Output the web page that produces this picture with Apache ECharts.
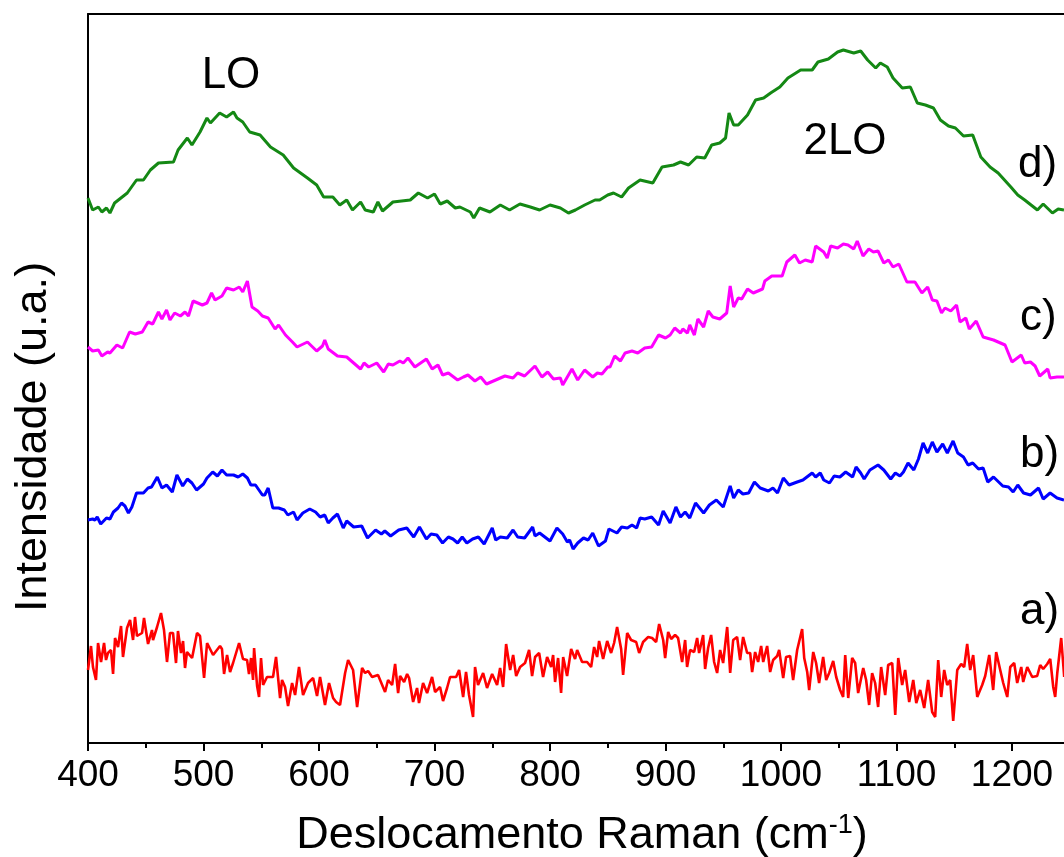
<!DOCTYPE html>
<html>
<head>
<meta charset="utf-8">
<script src="https://cdn.jsdelivr.net/npm/echarts@6/dist/echarts.min.js"></script>
<style>html,body{margin:0;padding:0;background:#fff}#c{width:1064px;height:857px}</style>
</head>
<body>
<div id="c"></div>
<script>
// x tick labels (Raman shift, cm-1)
const xTicks = [400, 500, 600, 700, 800, 900, 1000, 1100, 1200];
const seriesNames = ['a)', 'b)', 'c)', 'd)'];
const peakLabels = ['LO', '2LO'];

// d) green  [wavenumber, intensity (a.u., offset)]
const curveD = [[400,545],[404,533],[409,536],[412,531],[416,535],[419,530],[423,540],[434,550],[442,563],[448,563],[454,573],[461,580],[474,581],[478,593],[486,605],[490,598],[497,611],[503,625],[506,620],[514,630],[520,626],[526,631],[529,625],[534,621],[540,611],[549,608],[558,596],[569,588],[578,575],[590,565],[598,558],[604,546],[612,546],[618,538],[624,543],[629,533],[636,541],[640,533],[647,531],[651,541],[655,532],[664,541],[679,543],[686,550],[694,545],[700,549],[705,539],[711,542],[718,535],[722,536],[731,531],[734,525],[739,535],[748,531],[757,538],[765,533],[774,539],[783,536],[791,533],[800,538],[809,535],[816,530],[822,533],[830,538],[839,543],[843,543],[850,548],[855,550],[862,546],[868,555],[878,563],[889,560],[897,576],[907,578],[913,581],[920,578],[927,586],[934,585],[940,598],[947,600],[952,605],[955,630],[959,618],[963,618],[971,628],[978,643],[985,645],[991,650],[999,656],[1006,665],[1017,673],[1027,673],[1032,681],[1041,684],[1049,691],[1054,693],[1063,690],[1069,692],[1075,683],[1082,675],[1086,680],[1092,676],[1097,665],[1105,655],[1112,656],[1118,640],[1125,638],[1132,635],[1138,623],[1145,617],[1151,615],[1158,607],[1166,608],[1173,586],[1181,576],[1188,570],[1199,556],[1205,548],[1211,543],[1222,533],[1227,539],[1235,530],[1240,534],[1245,533]];

// c) magenta
const curveC = [[400,396],[404,392],[409,393],[412,387],[417,391],[419,390],[425,398],[430,395],[436,411],[441,409],[447,411],[452,421],[456,419],[461,431],[464,424],[468,433],[471,423],[475,430],[480,427],[484,431],[487,427],[491,442],[499,438],[503,440],[507,450],[510,443],[516,447],[520,455],[526,453],[531,456],[534,451],[538,462],[542,436],[547,432],[551,427],[556,425],[562,414],[565,418],[571,408],[577,401],[581,396],[590,401],[598,392],[603,397],[605,403],[608,394],[616,387],[624,386],[630,380],[636,374],[639,380],[643,376],[650,380],[656,371],[660,379],[664,378],[670,382],[673,380],[677,385],[683,376],[693,384],[698,374],[703,378],[707,368],[712,370],[720,363],[725,366],[729,368],[735,362],[740,366],[745,359],[751,362],[761,367],[768,365],[772,370],[778,367],[787,377],[793,366],[798,371],[803,364],[809,365],[811,358],[819,374],[824,363],[830,373],[837,366],[841,370],[845,369],[850,376],[852,376],[856,387],[861,382],[865,390],[871,392],[876,390],[882,395],[888,396],[894,408],[900,405],[904,408],[908,415],[913,410],[915,414],[919,410],[921,418],[925,408],[928,424],[933,416],[937,432],[941,426],[947,424],[953,430],[956,457],[959,436],[963,445],[966,444],[971,454],[976,450],[984,454],[986,462],[992,467],[1001,467],[1005,481],[1012,488],[1016,480],[1021,483],[1027,481],[1030,497],[1037,491],[1040,485],[1043,497],[1049,495],[1054,499],[1058,498],[1063,494],[1066,502],[1071,487],[1076,494],[1080,491],[1084,492],[1089,480],[1093,483],[1097,476],[1102,479],[1109,461],[1116,461],[1122,450],[1127,456],[1131,443],[1135,442],[1139,430],[1142,435],[1147,432],[1152,438],[1155,421],[1160,425],[1163,414],[1169,422],[1175,406],[1184,403],[1194,398],[1200,381],[1208,388],[1211,380],[1216,381],[1220,377],[1224,367],[1231,374],[1233,365],[1239,366],[1245,366]];

// b) blue
const curveB = [[400,223],[404,224],[406,223],[408,226],[411,219],[416,225],[419,224],[422,231],[426,235],[429,240],[432,237],[435,230],[438,236],[442,250],[448,250],[452,255],[455,256],[460,266],[464,255],[468,258],[473,251],[477,268],[482,257],[486,264],[490,260],[494,253],[500,259],[503,265],[508,271],[512,267],[516,273],[520,268],[526,268],[530,266],[534,269],[538,265],[541,258],[545,258],[551,248],[553,248],[556,255],[560,235],[565,235],[570,233],[573,228],[578,231],[581,223],[586,230],[592,234],[597,231],[601,226],[605,228],[608,220],[612,225],[616,229],[621,215],[624,222],[630,216],[637,217],[642,205],[649,213],[654,209],[657,212],[662,207],[669,213],[676,215],[682,206],[687,216],[693,204],[697,209],[702,208],[707,200],[712,206],[716,204],[720,200],[724,206],[728,200],[733,204],[738,206],[743,199],[750,215],[753,203],[757,206],[763,205],[768,213],[772,206],[778,205],[785,216],[787,207],[791,210],[800,202],[806,215],[811,209],[815,201],[817,203],[820,194],[824,200],[829,205],[833,203],[837,210],[842,197],[848,202],[851,214],[858,210],[862,216],[867,215],[871,218],[875,215],[878,225],[882,224],[888,226],[894,218],[898,232],[904,220],[909,236],[913,226],[917,231],[921,225],[926,240],[933,230],[938,238],[944,243],[950,236],[956,257],[959,245],[963,253],[967,249],[972,250],[977,261],[982,255],[989,252],[993,255],[997,250],[1002,265],[1007,258],[1014,261],[1019,263],[1027,270],[1030,266],[1034,270],[1037,263],[1042,260],[1046,267],[1051,266],[1056,271],[1062,266],[1065,276],[1069,270],[1072,264],[1077,273],[1084,278],[1089,273],[1095,264],[1099,270],[1103,267],[1106,271],[1110,280],[1115,273],[1119,284],[1123,300],[1127,290],[1131,301],[1135,291],[1140,299],[1144,290],[1149,302],[1153,290],[1158,286],[1162,278],[1166,280],[1171,274],[1175,275],[1179,261],[1184,266],[1192,257],[1197,256],[1201,251],[1205,258],[1210,250],[1216,248],[1223,255],[1227,244],[1233,250],[1239,245],[1245,243]];

// a) red
const curveA = [[400,73],[402.6,97],[404.3,76],[406.9,63],[408.7,100],[411.3,81],[413.9,100],[415.6,83],[417.3,90],[419.9,93],[421.7,69],[423.4,105],[426,96],[428.6,117],[430.3,86],[433.8,115],[436.4,123],[439,103],[440.7,126],[442.4,107],[446.8,110],[448.5,125],[452,99],[455.4,113],[456.3,103],[459.8,116],[463.2,130],[465.8,113],[468.4,81],[471,110],[473.6,110],[476.2,80],[477.9,112],[480.5,90],[482.3,102],[484,75],[485.7,91],[490.1,85],[494.4,110],[497,107],[500.5,65],[503.1,100],[508.3,88],[514.3,97],[516,94],[517.8,69],[520.4,88],[523,71],[525.6,80],[530.8,100],[534.2,84],[537.7,83],[539.4,69],[541.2,85],[542.9,63],[543.8,95],[546.4,57],[548.1,46],[549.8,85],[551.6,58],[555,66],[557.6,66],[560.2,66],[562.8,86],[566.3,45],[568,63],[570.6,56],[573.2,37],[576.7,60],[579.3,48],[582.7,76],[586.2,48],[590.5,60],[594.9,65],[598.3,47],[600.9,66],[605.2,38],[608.7,60],[612.2,45],[614.8,41],[618.2,38],[622.6,70],[625.2,83],[629.5,73],[633,36],[637.3,75],[639.9,70],[642.5,72],[646,66],[651.1,68],[657.2,51],[659.8,63],[663.3,58],[665.9,79],[668.5,50],[670.2,67],[673.7,61],[676.3,69],[678,65],[681.5,41],[684.9,55],[686.6,40],[690.1,60],[693.6,50],[697.9,66],[700.5,51],[704.8,56],[707.4,42],[710.9,55],[713.5,66],[718.7,66],[721.3,73],[724.8,46],[727.3,71],[729.9,48],[733.4,26],[735.1,76],[737.7,58],[742.1,70],[745.5,55],[749.9,69],[754.2,58],[756.8,75],[759.4,56],[762,99],[765.5,73],[768.1,88],[770.7,67],[774.1,76],[778.4,80],[781.9,93],[784.5,67],[787.1,86],[790.6,90],[794,66],[797.5,86],[801,76],[802.7,88],[804.4,61],[807,85],[809.6,50],[811.4,86],[814.8,67],[818.3,94],[821.7,84],[823.5,93],[827.8,81],[832.1,81],[835.6,76],[838.2,96],[840.8,86],[842.5,102],[846,84],[849.5,102],[852.9,90],[855.5,100],[858.1,116],[861.6,94],[863.3,68],[866.8,110],[870.2,103],[874.6,101],[877.2,90],[880.6,101],[885,106],[888.4,105],[891.9,101],[894.5,119],[898,103],[899.7,85],[902.3,111],[904.9,104],[908.3,108],[910.9,105],[914.4,81],[917,103],[918.7,76],[921.3,93],[924.8,91],[927.4,105],[929.1,90],[932.6,108],[934.3,74],[936.9,95],[939.5,108],[942.1,81],[944.7,70],[947.3,93],[949.9,80],[953.4,116],[956,70],[958.6,103],[962,106],[964.6,83],[967.2,106],[970.7,90],[973.3,90],[975,71],[977.6,91],[980.2,81],[982.8,97],[984.6,81],[988,97],[990.6,71],[993.2,83],[996.7,87],[998.4,93],[1001.9,65],[1004.4,86],[1007.9,87],[1010.5,63],[1014,93],[1018.3,114],[1020.1,85],[1022.7,71],[1024.4,53],[1027.9,91],[1030.4,80],[1033,60],[1036.5,86],[1039.1,63],[1041.7,70],[1045.2,82],[1047.8,66],[1051.2,53],[1053.8,46],[1055.6,88],[1058.2,45],[1061.6,85],[1064.2,80],[1066.8,50],[1071.2,75],[1073.7,63],[1076.3,38],[1078.9,70],[1081.5,60],[1084.1,36],[1086.7,76],[1090.2,48],[1092.8,78],[1096.3,80],[1098.9,28],[1101.5,85],[1104.9,58],[1107.5,73],[1111,41],[1114.5,63],[1117.1,40],[1120.5,53],[1124,35],[1127.4,63],[1130.9,31],[1133.5,26],[1136.1,83],[1138.7,46],[1141.3,73],[1143.9,58],[1146.5,63],[1149.1,22],[1152.6,73],[1156,79],[1158.6,76],[1161.2,99],[1163.8,73],[1166.4,88],[1169.9,46],[1174.2,58],[1176.8,67],[1180.3,88],[1183.7,53],[1186.3,91],[1189.8,73],[1192.4,60],[1195.9,46],[1198.5,76],[1201.9,80],[1204.5,60],[1208,76],[1209.7,61],[1213.2,76],[1217.5,66],[1221.8,67],[1224.4,78],[1227,74],[1230.5,79],[1233.1,84],[1235.7,56],[1237.4,46],[1239.2,70],[1242.6,105],[1245.2,66]];

const FONT = '"Liberation Sans", Arial, sans-serif';
const chart = echarts.init(document.getElementById('c'), null, {renderer: 'canvas'});

function txt(text, x, y, align, size) {
  return {type: 'text', x: x, y: y, silent: true,
    style: {text: text, fontSize: size, fontFamily: FONT, fill: '#000', align: align, verticalAlign: 'middle'}};
}

chart.setOption({
  animation: false,
  backgroundColor: '#fff',
  // the plot continues past the right edge of the picture (cropped figure)
  grid: {left: 88, width: 1039.5, top: 14, bottom: 114, containLabel: false, outerBoundsMode: 'none'},
  xAxis: [{
    type: 'value', min: 400, max: 1300, interval: 100, position: 'bottom',
    axisLine: {show: true, onZero: false, lineStyle: {color: '#000', width: 2}},
    axisTick: {show: true, length: 8, inside: false, lineStyle: {color: '#000', width: 2}},
    minorTick: {show: true, splitNumber: 2, length: 5, lineStyle: {color: '#000', width: 2}},
    splitLine: {show: false}, minorSplitLine: {show: false},
    axisLabel: {show: true, fontSize: 37, fontFamily: FONT, color: '#000', margin: 14,
      formatter: function (v) { return xTicks.indexOf(v) >= 0 ? String(v) : ''; }}
  }, {
    type: 'value', min: 400, max: 1300, position: 'top',
    axisLine: {show: true, onZero: false, lineStyle: {color: '#000', width: 2}},
    axisTick: {show: false}, axisLabel: {show: false}, splitLine: {show: false}
  }],
  yAxis: {
    type: 'value', min: 0, max: 729,
    axisLine: {show: true, onZero: false, lineStyle: {color: '#000', width: 2}},
    axisTick: {show: false}, axisLabel: {show: false}, splitLine: {show: false}
  },
  series: [
    {name: seriesNames[0], type: 'line', data: curveA, showSymbol: false, symbol: 'none', lineStyle: {color: '#ff0000', width: 2.6}},
    {name: seriesNames[1], type: 'line', data: curveB, showSymbol: false, symbol: 'none', lineStyle: {color: '#0000ff', width: 3}},
    {name: seriesNames[2], type: 'line', data: curveC, showSymbol: false, symbol: 'none', lineStyle: {color: '#ff00ff', width: 3}},
    {name: seriesNames[3], type: 'line', data: curveD, showSymbol: false, symbol: 'none', lineStyle: {color: '#148814', width: 3}}
  ],
  graphic: [
    txt(peakLabels[0], 231, 76, 'center', 44),
    txt(peakLabels[1], 845, 142, 'center', 44),
    txt(seriesNames[3], 1018, 165, 'left', 44),
    txt(seriesNames[2], 1020, 318, 'left', 44),
    txt(seriesNames[1], 1020, 455, 'left', 44),
    txt(seriesNames[0], 1020, 612, 'left', 44),
    {type: 'text', x: 34, y: 437, rotation: Math.PI / 2, silent: true,
      style: {text: 'Intensidade (u.a.)', fontSize: 45, fontFamily: FONT, fill: '#000', align: 'center', verticalAlign: 'middle'}},
    {type: 'text', x: 582, y: 836, silent: true,
      style: {text: '{a|Deslocamento Raman (cm}{s|-1}{a|)}', fontFamily: FONT, fill: '#000', align: 'center', verticalAlign: 'middle',
        rich: {a: {fontSize: 45, fontFamily: FONT, fill: '#000', lineHeight: 48},
               s: {fontSize: 27, fontFamily: FONT, fill: '#000', verticalAlign: 'top', lineHeight: 48, padding: [0, 0, 0, 0]}}}}
  ]
});
</script>
</body>
</html>
